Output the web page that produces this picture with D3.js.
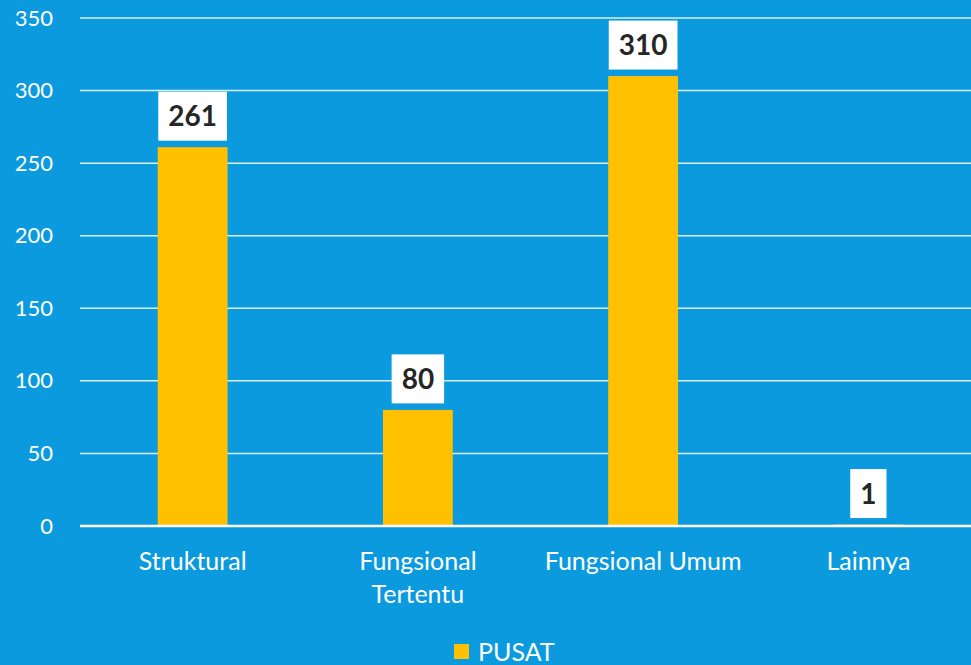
<!DOCTYPE html>
<html>
<head>
<meta charset="utf-8">
<script src="https://cdn.jsdelivr.net/npm/d3@7"></script>
<style>
  html, body { margin: 0; padding: 0; background: #0B9ADE; }
  svg, svg text { font-family: Lato, "Open Sans", sans-serif; }
</style>
</head>
<body>
<div id="chart"></div>
<script>
//Datos
const categories = [['Struktural'], ['Fungsional', 'Tertentu'], ['Fungsional Umum'], ['Lainnya']];
const values = [261, 80, 310, 1];
const yTicks = [0, 50, 100, 150, 200, 250, 300, 350];
const seriesName = 'PUSAT';

//Colores fijos
const COLOR_BG = '#0B9ADE',
COLOR_BAR = '#FFC000',
COLOR_TEXT = '#262626';

let W = 971, H = 665;
let margin = {top: 18, right: -10, bottom: 139, left: 80},
    width = W - margin.left - margin.right,
    height = H - margin.top - margin.bottom;

let svg = d3.select('#chart')
    .append('svg')
        .attr('width', W)
        .attr('height', H);

svg.append('rect').attr('width', W).attr('height', H).attr('fill', COLOR_BG);

let g = svg.append('g')
    .attr('transform', 'translate(' + margin.left + ',' + margin.top + ')');

let keys = categories.map(function(d) { return d.join(' '); });

let x = d3.scaleBand()
    .domain(keys)
    .range([0, width])
    .paddingInner(0.69)
    .paddingOuter(0.345);

let y = d3.scaleLinear()
    .domain([0, 350])
    .range([height, 0]);

//Eje Y + rejilla
let yAxis = function(gr) {
    gr.call(d3.axisLeft(y).tickValues(yTicks).tickSize(0).tickPadding(27));
    gr.call(function(gr) { gr.select('.domain').remove(); });
    gr.attr('font-family', null).attr('font-size', null);
    gr.selectAll('text')
        .attr('fill', '#fff')
        .style('font-size', '22px');
};
g.append('g').call(yAxis);

g.append('g')
    .selectAll('line')
    .data(yTicks.filter(function(d) { return d > 0; }))
    .enter()
    .append('line')
    .attr('x1', 0)
    .attr('x2', width)
    .attr('y1', function(d) { return y(d); })
    .attr('y2', function(d) { return y(d); })
    .attr('stroke', '#fff')
    .attr('stroke-opacity', 0.85)
    .attr('stroke-width', 1.5);

//Barras
g.append('g')
    .selectAll('rect')
    .data(values)
    .enter()
    .append('rect')
    .attr('x', function(d, i) { return x(keys[i]); })
    .attr('y', function(d) { return y(d); })
    .attr('width', x.bandwidth())
    .attr('height', function(d) { return y(0) - y(d); })
    .attr('fill', COLOR_BAR);

//Línea cero
g.append('line')
    .attr('x1', 0).attr('x2', width)
    .attr('y1', y(0)).attr('y2', y(0))
    .attr('stroke', '#fff')
    .attr('stroke-width', 2.5);

//Etiquetas de valor
let labels = g.append('g')
    .selectAll('g')
    .data(values)
    .enter()
    .append('g')
    .attr('transform', function(d, i) {
        return 'translate(' + (x(keys[i]) + x.bandwidth() / 2) + ',' + (y(d) - 31) + ')';
    });

labels.append('text')
    .attr('text-anchor', 'middle')
    .attr('dy', '0.36em')
    .attr('fill', COLOR_TEXT)
    .style('font-size', '28px')
    .style('font-weight', '700')
    .text(function(d) { return d; });

labels.each(function() {
    let t = d3.select(this).select('text');
    let w = t.node().getBBox().width + 20;
    d3.select(this).insert('rect', 'text')
        .attr('x', -w / 2)
        .attr('y', -24.5)
        .attr('width', w)
        .attr('height', 49)
        .attr('fill', '#fff');
});

//Eje X
let xg = g.append('g')
    .attr('transform', 'translate(0,' + height + ')');

xg.selectAll('text')
    .data(categories)
    .enter()
    .append('text')
    .attr('x', function(d, i) { return x(keys[i]) + x.bandwidth() / 2; })
    .attr('y', 44)
    .attr('text-anchor', 'middle')
    .attr('fill', '#fff')
    .style('font-size', '25px')
    .each(function(d) {
        let t = d3.select(this);
        d.forEach(function(line, j) {
            t.append('tspan')
                .attr('x', t.attr('x'))
                .attr('dy', j === 0 ? 0 : 33)
                .text(line);
        });
    });

//Leyenda
let legend = svg.append('g')
    .attr('transform', 'translate(454,644)');

legend.append('rect')
    .attr('width', 15)
    .attr('height', 15)
    .attr('fill', COLOR_BAR);

legend.append('text')
    .attr('x', 24)
    .attr('y', 8)
    .attr('dy', '0.36em')
    .attr('fill', '#fff')
    .style('font-size', '25px')
    .text(seriesName);
</script>
</body>
</html>
